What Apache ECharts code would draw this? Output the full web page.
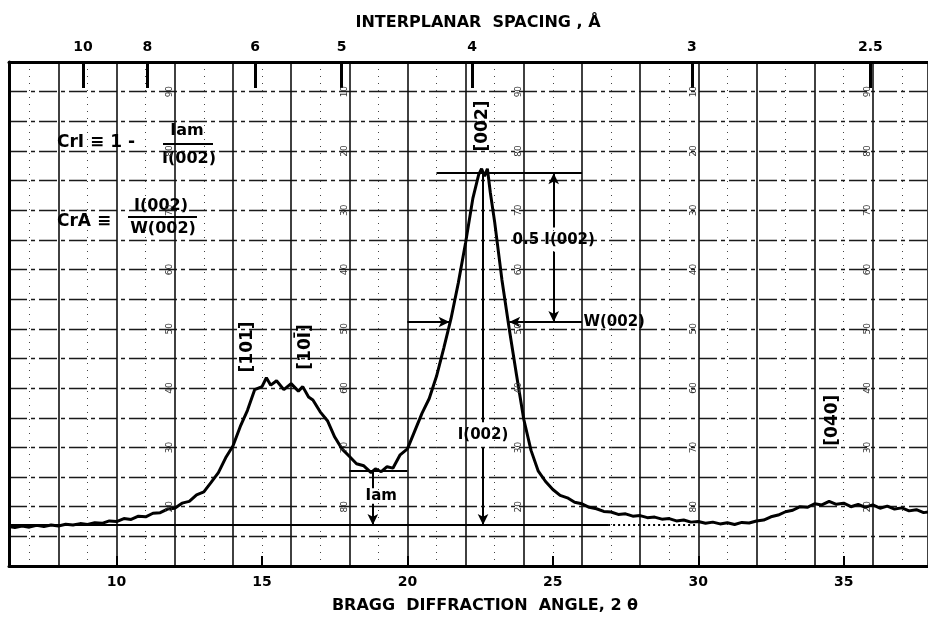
<!DOCTYPE html>
<html><head><meta charset="utf-8">
<script src="https://cdn.jsdelivr.net/npm/echarts@6/dist/echarts.min.js"></script>
<style>html,body{margin:0;padding:0;background:#fff}#c{width:928px;height:619px}</style>
</head><body><div id="c"></div>
<script>
// ---- data ----
const LAMBDA = 1.5418;           // Cu K-alpha, used for the spacing (top) axis
const X_MIN = 6.3, X_MAX = 37.9; // Bragg angle 2θ range
const Y_MIN = 0, Y_MAX = 17;     // chart-paper rows
const ANGLE_TICKS = [10, 15, 20, 25, 30, 35];
const ANGLE_GRID = [8, 10, 12, 14, 16, 18, 20, 22, 24, 26, 28, 30, 32, 34, 36];
const SPACING_TICKS = [10, 8, 6, 5, 4, 3, 2.5];

const twoTheta = [6.3,6.5,6.75,7.0,7.25,7.5,7.75,8.0,8.25,8.5,8.75,9.0,9.25,9.5,9.75,10.0,10.25,10.5,10.75,11.0,11.25,11.5,11.75,12.0,12.25,12.5,12.75,13.0,13.25,13.5,13.75,14.0,14.25,14.5,14.75,15.0,15.15,15.3,15.5,15.75,16.0,16.25,16.4,16.6,16.75,17.0,17.25,17.5,17.75,18.0,18.25,18.5,18.75,18.9,19.1,19.3,19.5,19.75,20.0,20.25,20.5,20.75,21.0,21.25,21.5,21.75,22.0,22.25,22.45,22.55,22.65,22.75,22.85,23.0,23.25,23.5,23.75,24.0,24.25,24.5,24.75,25.0,25.25,25.5,25.75,26.0,26.25,26.5,26.75,27.0,27.25,27.5,27.75,28.0,28.25,28.5,28.75,29.0,29.25,29.5,29.75,30.0,30.25,30.5,30.75,31.0,31.25,31.5,31.75,32.0,32.25,32.5,32.75,33.0,33.25,33.5,33.75,34.0,34.25,34.5,34.75,35.0,35.25,35.5,35.75,36.0,36.25,36.5,36.75,37.0,37.25,37.5,37.75,37.9];
const intensity = [1.33,1.30,1.35,1.31,1.37,1.33,1.38,1.35,1.41,1.38,1.43,1.40,1.46,1.44,1.52,1.50,1.60,1.57,1.68,1.66,1.78,1.80,1.92,1.95,2.12,2.18,2.40,2.50,2.82,3.15,3.65,4.05,4.70,5.25,5.95,6.05,6.35,6.10,6.25,5.95,6.15,5.90,6.05,5.70,5.60,5.20,4.90,4.35,3.95,3.70,3.45,3.38,3.15,3.28,3.18,3.35,3.30,3.75,3.95,4.55,5.15,5.65,6.40,7.35,8.35,9.55,10.90,12.40,13.20,13.40,13.15,13.40,12.60,11.60,9.65,8.00,6.45,4.95,3.90,3.20,2.85,2.58,2.38,2.30,2.15,2.10,1.98,1.93,1.84,1.82,1.74,1.76,1.68,1.70,1.63,1.65,1.58,1.60,1.52,1.55,1.48,1.50,1.44,1.48,1.42,1.46,1.40,1.47,1.45,1.52,1.55,1.66,1.72,1.83,1.88,2.00,1.98,2.10,2.06,2.18,2.08,2.12,2.00,2.08,1.98,2.06,1.95,2.02,1.92,1.96,1.86,1.90,1.80,1.82];

// construction lines (2θ, intensity)
const BASE = 1.38, PEAK = 13.25, HALF = 8.23, AMORPH = 3.22;
const baselineSolid = [[6.3, BASE], [26.9, BASE]];
const baselineDotted = [[26.9, BASE], [30.0, BASE]];
const peakLine = [[21.0, PEAK], [26.0, PEAK]];
const peakDropTop = [[22.6, PEAK], [22.6, 4.85]];
const peakDropBottom = [[22.6, 4.0], [22.6, BASE]];
const halfArrowUp = [[25.03, 11.42], [25.03, PEAK]];
const halfArrowDown = [[25.03, 10.6], [25.03, HALF]];
const widthLeft = [[20.0, HALF], [21.45, HALF]];
const widthRight = [[26.0, HALF], [23.5, HALF]];
const amorphLine = [[18.0, AMORPH], [20.0, AMORPH]];
const amorphTop = [[18.81, AMORPH], [18.81, 2.62]];
const amorphBottom = [[18.81, 2.1], [18.81, BASE]];

// annotation labels anchored in data units
const notes = [
  {text: '[101]', at: [14.52, 7.39], rot: true},
  {text: '[10\u012A]', at: [16.51, 7.39], rot: true},
  {text: '[002]', at: [22.6, 14.84], rot: true},
  {text: '[040]', at: [34.62, 4.92], rot: true},
  {text: 'I(002)', at: [22.6, 4.42]},
  {text: '0.5 I(002)', at: [25.03, 11.0]},
  {text: 'W(002)', at: [26.05, HALF], left: true},
  {text: 'Iam', at: [19.1, 2.35]}
];
// printed chart-paper scale numbers (column 2θ, values top→bottom at rows 16,14,...,2)
const paperCols = [12, 18, 24, 30, 36];
const paperRows = [16, 14, 12, 10, 8, 6, 4, 2];
const paperDown = [90, 80, 70, 60, 50, 40, 30, 20];
const paperUp = [10, 20, 30, 40, 50, 60, 70, 80];

// ---- chart ----
const FONT = "'DejaVu Sans','Liberation Sans',sans-serif";
const dToAngle = d => 2 * Math.asin(LAMBDA / (2 * d)) * 180 / Math.PI;
const spacingPositions = SPACING_TICKS.map(dToAngle);
const angleToD = v => LAMBDA / (2 * Math.sin(v / 2 * Math.PI / 180));

function seg(p, endArrow) {
  return [{coord: p[0], symbol: 'none'}, {coord: p[1], symbol: endArrow ? 'arrow' : 'none'}];
}

const chart = echarts.init(document.getElementById('c'), null, {renderer: 'canvas'});
const option = {
  animation: false,
  backgroundColor: '#fff',
  grid: {left: 9, right: 0, top: 62, bottom: 53, containLabel: false},
  xAxis: [
    {type: 'value', position: 'bottom', min: X_MIN, max: X_MAX,
     axisLine: {show: true, onZero: false, lineStyle: {color: '#000', width: 3}},
     axisTick: {show: true, inside: true, length: 10, customValues: ANGLE_TICKS, lineStyle: {color: '#000', width: 2}},
     axisLabel: {customValues: ANGLE_TICKS, color: '#000', fontFamily: FONT, fontWeight: 'bold', fontSize: 14, margin: 9},
     splitLine: {show: false}},
    {type: 'value', position: 'bottom', min: X_MIN, max: X_MAX, minInterval: 2, maxInterval: 2, splitNumber: 16,
     axisLine: {show: false}, axisTick: {show: false}, axisLabel: {show: false},
     splitLine: {show: true, lineStyle: {color: '#111', width: 1.6}},
     minorTick: {show: false, splitNumber: 2},
     minorSplitLine: {show: true, lineStyle: {color: '#444', width: 1, type: [1, 6]}}},
    {type: 'value', position: 'top', min: X_MIN, max: X_MAX,
     axisLine: {show: true, onZero: false, lineStyle: {color: '#000', width: 3}},
     axisTick: {show: true, inside: true, length: 26, customValues: spacingPositions, lineStyle: {color: '#000', width: 3}},
     axisLabel: {customValues: spacingPositions, color: '#000', fontFamily: FONT, fontWeight: 'bold', fontSize: 14, margin: 8,
       formatter: v => { const d = angleToD(v); let best = SPACING_TICKS[0];
         SPACING_TICKS.forEach(s => { if (Math.abs(s - d) < Math.abs(best - d)) best = s; }); return String(best); }},
     splitLine: {show: false}}
  ],
  yAxis: [{type: 'value', min: Y_MIN, max: Y_MAX, interval: 1,
    axisLine: {show: true, lineStyle: {color: '#000', width: 3}},
    axisTick: {show: false}, axisLabel: {show: false},
    splitLine: {show: true, lineStyle: {color: '#1a1a1a', width: 1.4, type: [18, 4, 4, 4]}}}],
  series: [
    {type: 'line', xAxisIndex: 0, yAxisIndex: 0, data: twoTheta.map((t, i) => [t, intensity[i]]),
     symbol: 'none', showSymbol: false, lineStyle: {color: '#000', width: 3}, z: 5},
    {type: 'line', xAxisIndex: 0, yAxisIndex: 0, data: [], z: 4,
     markLine: {silent: true, symbol: ['none', 'none'], symbolSize: [8, 11], label: {show: false},
       lineStyle: {color: '#000', width: 2, type: 'solid'}, emphasis: {disabled: true},
       data: [seg(baselineSolid), seg(peakLine), seg(peakDropTop), seg(peakDropBottom, true),
              seg(halfArrowUp, true), seg(halfArrowDown, true), seg(widthLeft, true), seg(widthRight, true),
              seg(amorphLine), seg(amorphTop), seg(amorphBottom, true)]}},
    {type: 'line', xAxisIndex: 0, yAxisIndex: 0, data: [], z: 4,
     markLine: {silent: true, symbol: ['none', 'none'], label: {show: false},
       lineStyle: {color: '#000', width: 2, type: [2, 3]}, data: [seg(baselineDotted)]}}
  ]
};
chart.setOption(option);

const px = p => chart.convertToPixel({seriesIndex: 0}, p);
const graphics = [];
function txt(x, y, text, size, opts) {
  opts = opts || {};
  graphics.push({type: 'text', x: x, y: y, rotation: opts.rot ? Math.PI / 2 : 0, z: 10,
    style: {text: text, font: (opts.weight || 'bold') + ' ' + size + 'px ' + FONT, fill: opts.fill || '#000',
      align: opts.align || 'center', verticalAlign: 'middle', textAlign: opts.align || 'center', textVerticalAlign: 'middle'}});
}
function bar(x1, x2, y) {
  graphics.push({type: 'line', z: 10, shape: {x1: x1, y1: y, x2: x2, y2: y}, style: {stroke: '#000', lineWidth: 2}});
}
// titles
txt(478, 23, 'INTERPLANAR  SPACING , \u00C5', 16);
txt(485, 606, 'BRAGG  DIFFRACTION  ANGLE, 2 \u03B8', 16);
// formulas
txt(57, 143, 'CrI \u2261 1 -', 17, {align: 'left'});
txt(187, 131, 'Iam', 16);
bar(163, 213, 144);
txt(189, 159, 'I(002)', 16);
txt(57, 222, 'CrA \u2261', 17, {align: 'left'});
txt(161, 206, 'I(002)', 16);
bar(128, 197, 217);
txt(163, 229, 'W(002)', 16);
// annotation labels
notes.forEach(n => {
  const p = px(n.at);
  if (n.rot) txt(p[0], p[1], n.text, 17, {rot: true});
  else txt(p[0], p[1], n.text, 15, {align: n.left ? 'left' : 'center'});
});
// chart-paper numbers
paperCols.forEach((c, ci) => {
  const vals = ci % 2 === 0 ? paperDown : paperUp;
  paperRows.forEach((r, ri) => {
    const p = px([c - 0.17, r]);
    txt(p[0], p[1], String(vals[ri]), 9, {rot: true, weight: 'normal', fill: '#333'});
  });
});
chart.setOption({graphic: {elements: graphics}});
</script>
</body></html>
